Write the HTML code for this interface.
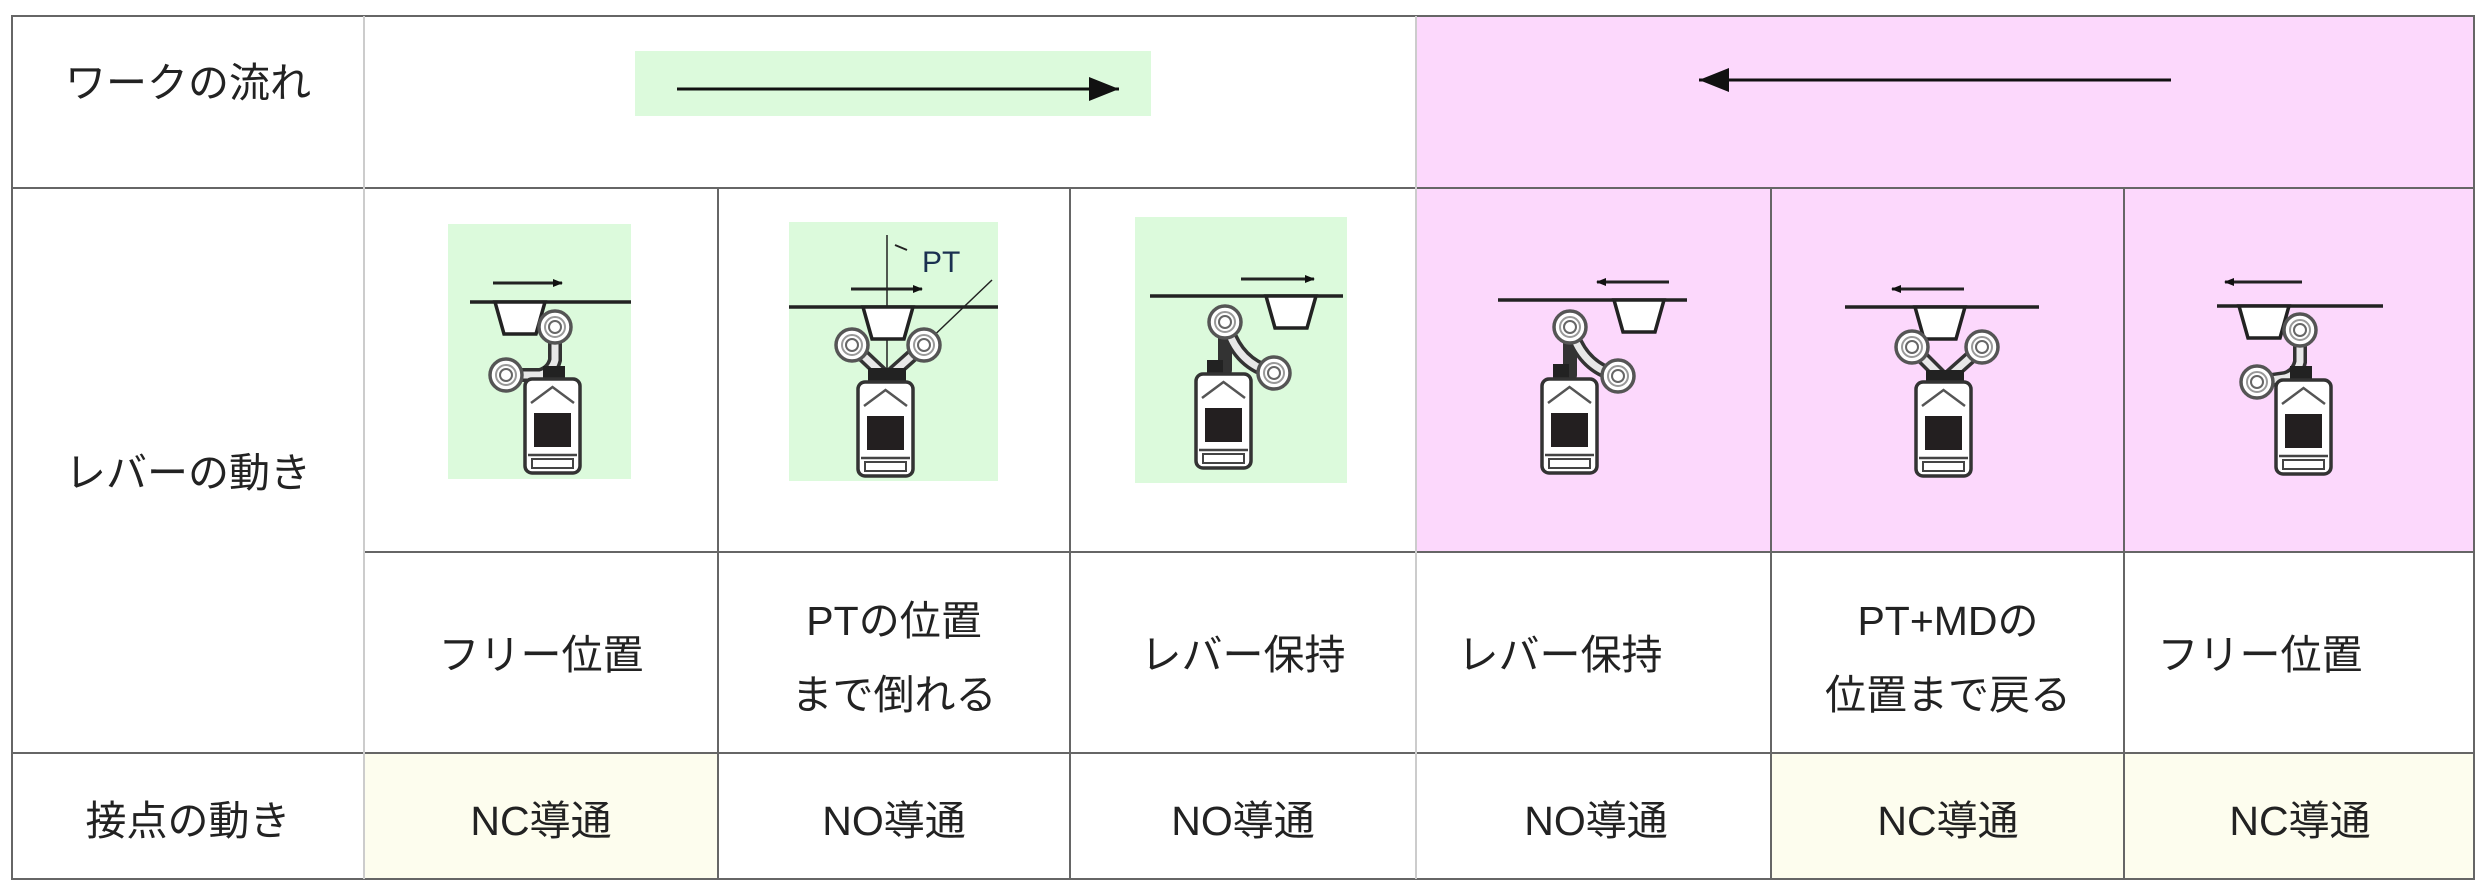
<!DOCTYPE html>
<html><head><meta charset="utf-8"><style>
html,body{margin:0;padding:0;background:#fff;}
svg{display:block;}
text{font-family:"Liberation Sans","Noto Sans CJK JP",sans-serif;fill:#222;}
</style></head><body>
<svg width="2490" height="890" viewBox="0 0 2490 890" xmlns="http://www.w3.org/2000/svg">
<defs>
<marker id="ah" markerWidth="10" markerHeight="8" refX="9" refY="4" orient="auto" markerUnits="userSpaceOnUse"><path d="M0,0 L10,4 L0,8 Z" fill="#111"/></marker>
<marker id="bigah" viewBox="0 0 10 8" markerWidth="40" markerHeight="24" refX="10" refY="4" orient="auto" markerUnits="userSpaceOnUse"><path d="M0,0 L10,4 L0,8 Z" fill="#111"/></marker>
<g id="body">
<rect x="-2" y="-8" width="55" height="94" rx="7" fill="#fff" stroke="#333" stroke-width="3.5"/>
<path d="M4,16 L25.5,0 L47,16" fill="none" stroke="#555" stroke-width="2.5"/>
<rect x="7" y="26" width="37" height="34" fill="#231f20"/>
<line x1="1" y1="68" x2="50" y2="68" stroke="#444" stroke-width="2.5"/>
<rect x="5" y="72" width="41" height="9" fill="#fff" stroke="#444" stroke-width="2"/>
</g>
<g id="roller">
<circle r="16" fill="#fff" stroke="#555" stroke-width="3.5"/>
<circle r="10" fill="none" stroke="#999" stroke-width="2"/>
<circle r="6" fill="#fff" stroke="#666" stroke-width="2"/>
</g>
<path id="bucket" d="M-25,0 L25,0 L16,32 L-16,32 Z" fill="#fff" stroke="#222" stroke-width="3.5"/>
</defs>

<rect x="1416" y="16" width="1058" height="172" fill="#fcd8fc"/>
<rect x="1416" y="188" width="1058" height="364" fill="#fcd8fc"/>
<rect x="364" y="753" width="354" height="126" fill="#fdfdee"/>
<rect x="1771" y="753" width="703" height="126" fill="#fdfdee"/>

<g stroke="#666" stroke-width="2" fill="none">
<rect x="12" y="16" width="2462" height="863"/>
<line x1="12" y1="188" x2="2474" y2="188"/>
<line x1="364" y1="552" x2="2474" y2="552"/>
<line x1="12" y1="753" x2="2474" y2="753"/>
<line x1="364" y1="16" x2="364" y2="879" stroke="#ccc"/>
<line x1="1416" y1="16" x2="1416" y2="879" stroke="#ccc"/>
<line x1="718" y1="188" x2="718" y2="879"/>
<line x1="1070" y1="188" x2="1070" y2="879"/>
<line x1="1771" y1="188" x2="1771" y2="879"/>
<line x1="2124" y1="188" x2="2124" y2="879"/>
</g>

<rect x="635" y="51" width="516" height="65" fill="#dcfadc"/>
<line x1="677" y1="89" x2="1119" y2="89" stroke="#111" stroke-width="3" marker-end="url(#bigah)"/>
<line x1="2171" y1="80" x2="1699" y2="80" stroke="#111" stroke-width="3" marker-end="url(#bigah)"/>

<g font-size="41" text-anchor="middle">
<text x="188" y="97">ワークの流れ</text>
<text x="188" y="487">レバーの動き</text>
<text x="188" y="835">接点の動き</text>
<text x="541" y="669">フリー位置</text>
<text x="894" y="635">PTの位置</text>
<text x="894" y="709">まで倒れる</text>
<text x="1243" y="669">レバー保持</text>
<text x="1560" y="669">レバー保持</text>
<text x="1948" y="635">PT+MDの</text>
<text x="1948" y="709">位置まで戻る</text>
<text x="2260" y="669">フリー位置</text>
<text x="541" y="835">NC導通</text>
<text x="894" y="835">NO導通</text>
<text x="1243" y="835">NO導通</text>
<text x="1596" y="835">NO導通</text>
<text x="1948" y="835">NC導通</text>
<text x="2300" y="835">NC導通</text>
</g>

<rect x="448" y="224" width="183" height="255" fill="#dcfadc"/>
<rect x="789" y="222" width="209" height="259" fill="#dcfadc"/>
<rect x="1135" y="217" width="212" height="266" fill="#dcfadc"/>

<g stroke="#222" stroke-width="3.5" fill="none">
<line x1="470" y1="302" x2="631" y2="302"/>
<line x1="493" y1="283" x2="562" y2="283" stroke-width="3" marker-end="url(#ah)"/>
<line x1="789" y1="307" x2="998" y2="307"/>
<line x1="851" y1="289" x2="922" y2="289" stroke-width="3" marker-end="url(#ah)"/>
<line x1="887" y1="235" x2="887" y2="370" stroke-width="1.5"/>
<line x1="924" y1="345" x2="992" y2="280" stroke-width="1.5"/>
<line x1="895" y1="245" x2="907" y2="250" stroke-width="2"/>
<line x1="1150" y1="296" x2="1343" y2="296"/>
<line x1="1241" y1="279" x2="1314" y2="279" stroke-width="3" marker-end="url(#ah)"/>
<line x1="1498" y1="300" x2="1687" y2="300"/>
<line x1="1669" y1="282" x2="1597" y2="282" stroke-width="3" marker-end="url(#ah)"/>
<line x1="1845" y1="307" x2="2039" y2="307"/>
<line x1="1964" y1="289" x2="1892" y2="289" stroke-width="3" marker-end="url(#ah)"/>
<line x1="2217" y1="306" x2="2383" y2="306"/>
<line x1="2302" y1="282" x2="2225" y2="282" stroke-width="3" marker-end="url(#ah)"/>
</g>
<text x="922" y="272" font-size="30" style="fill:#1a3050">PT</text>

<use href="#bucket" x="520" y="302"/>
<use href="#bucket" x="888" y="307"/>
<use href="#bucket" x="1291" y="296"/>
<use href="#bucket" x="1639" y="300"/>
<use href="#bucket" x="1940" y="307"/>
<use href="#bucket" x="2264" y="306"/>

<g stroke="#333" stroke-width="14" stroke-linecap="round" fill="none">
<path d="M555,327 L555,360 Q552,372 540,375 L506,375"/>
<path d="M852,345 L887,378 L924,345"/>
<path d="M1225,322 L1225,370 M1228,330 Q1240,365 1274,373"/>
<path d="M1570,327 L1570,375 M1573,335 Q1585,368 1618,376"/>
<path d="M1912,347 L1945,380 L1982,347"/>
<path d="M2300,330 L2300,362 Q2297,375 2285,378 L2257,382"/>
</g>
<g stroke="#e8e8e8" stroke-width="7" stroke-linecap="round" fill="none">
<path d="M555,327 L555,360 Q552,372 540,375 L506,375"/>
<path d="M852,345 L887,378 L924,345"/>
<path d="M1228,330 Q1240,365 1274,373"/>
<path d="M1573,335 Q1585,368 1618,376"/>
<path d="M1912,347 L1945,380 L1982,347"/>
<path d="M2300,330 L2300,362 Q2297,375 2285,378 L2257,382"/>
</g>
<g fill="#222">
<rect x="543" y="366" width="22" height="16"/>
<rect x="868" y="368" width="38" height="16"/>
<rect x="1207" y="360" width="16" height="20"/>
<rect x="1553" y="364" width="16" height="20"/>
<rect x="1926" y="370" width="38" height="16"/>
<rect x="2290" y="366" width="22" height="16"/>
</g>
<use href="#roller" x="555" y="327"/><use href="#roller" x="506" y="375"/>
<use href="#roller" x="852" y="345"/><use href="#roller" x="924" y="345"/>
<use href="#roller" x="1225" y="322"/><use href="#roller" x="1274" y="373"/>
<use href="#roller" x="1570" y="327"/><use href="#roller" x="1618" y="376"/>
<use href="#roller" x="1912" y="347"/><use href="#roller" x="1982" y="347"/>
<use href="#roller" x="2300" y="330"/><use href="#roller" x="2257" y="382"/>

<use href="#body" x="527" y="387"/>
<use href="#body" x="860" y="390"/>
<use href="#body" x="1198" y="382"/>
<use href="#body" x="1544" y="387"/>
<use href="#body" x="1918" y="390"/>
<use href="#body" x="2278" y="388"/>
</svg>
</body></html>
